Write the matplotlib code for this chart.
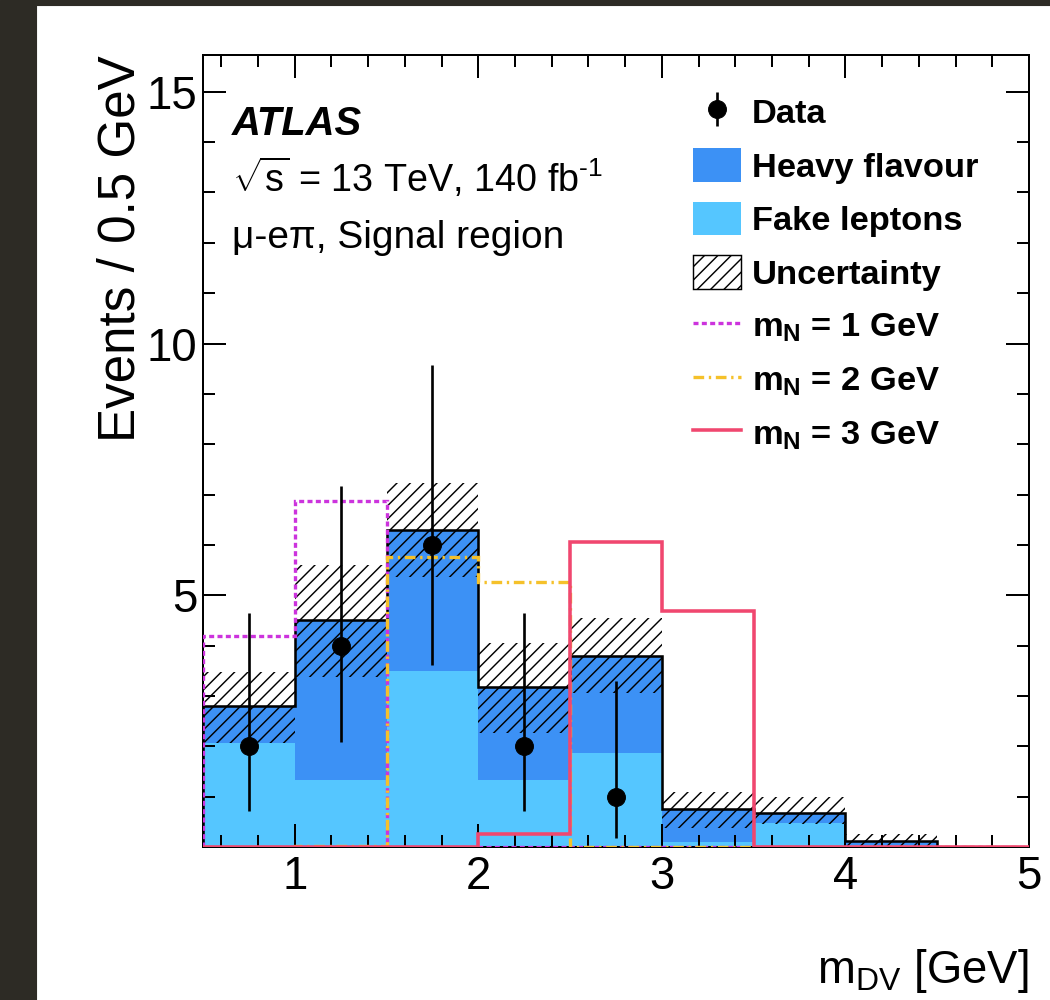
import numpy as np
import matplotlib
matplotlib.use("Agg")
import matplotlib.pyplot as plt
from matplotlib.patches import Patch, Rectangle
from matplotlib.lines import Line2D
from matplotlib.ticker import MultipleLocator, FixedLocator

# ── 데이터 ──────────────────────────────────────
edges = [0.5, 1.0, 1.5, 2.0, 2.5, 3.0, 3.5, 4.0, 4.5, 5.0]
fake_leptons = [2.06, 1.33, 3.49, 1.33, 1.86, 0.10, 0.47, 0.03, 0.0]
heavy_flavour = [0.74, 3.17, 2.81, 1.84, 1.94, 0.65, 0.20, 0.09, 0.0]
unc_lo = [2.06, 3.37, 5.36, 2.26, 3.06, 0.37, 0.46, 0.02, 0.0]
unc_hi = [3.47, 5.60, 7.22, 4.05, 4.54, 1.09, 0.99, 0.26, 0.0]

data_x = [0.75, 1.25, 1.75, 2.25, 2.75]
data_y = [2, 4, 6, 2, 1]
data_err_lo = [1.29, 1.91, 2.38, 1.29, 0.83]
data_err_hi = [2.64, 3.16, 3.58, 2.64, 2.30]

sig_m1 = [4.19, 6.87, 0.0, 0.0, 0.0, 0.0, 0.0, 0.0, 0.0]
sig_m2 = [0.0, 0.02, 5.75, 5.27, 0.0, 0.0, 0.0, 0.0, 0.0]
sig_m3 = [0.0, 0.0, 0.0, 0.25, 6.06, 4.69, 0.0, 0.0, 0.0]

y_major_ticks = [5, 10, 15]

C_HEAVY = "#3c91f5"
C_FAKE = "#55c6ff"
C_M1 = "#cc33dd"
C_M2 = "#f5c12a"
C_M3 = "#f0476f"

LS_M1 = (0, (1.5, 1.0))
LS_M2 = (0, (3.2, 1.4, 0.7, 1.4))

plt.rcParams["font.family"] = ["Liberation Sans", "DejaVu Sans"]
plt.rcParams["mathtext.fontset"] = "custom"
plt.rcParams["mathtext.rm"] = "Liberation Sans"
plt.rcParams["mathtext.it"] = "Liberation Sans:italic"
plt.rcParams["mathtext.bf"] = "Liberation Sans:bold"
plt.rcParams["hatch.linewidth"] = 1.3
plt.rcParams["axes.unicode_minus"] = False

fig = plt.figure(figsize=(13.125, 12.5), dpi=80)
ax = fig.add_axes([203 / 1050, 153 / 1000, 826 / 1050, 792 / 1000])

# 화면 테두리 (스크린샷 배경)
fig.patches.append(Rectangle((0, 0), 36 / 1050, 1, transform=fig.transFigure,
                             color="#2d2b25", zorder=0))
fig.patches.append(Rectangle((0, 995 / 1000), 1, 5 / 1000, transform=fig.transFigure,
                             color="#2d2b25", zorder=0))

fake = np.array(fake_leptons)
total = fake + np.array(heavy_flavour)

# 배경 스택
ax.stairs(fake, edges, fill=True, color=C_FAKE, lw=0, zorder=1)
ax.stairs(total, edges, baseline=fake, fill=True, color=C_HEAVY, lw=0, zorder=1)
ax.stairs(unc_hi, edges, baseline=unc_lo, fill=True, facecolor="none",
          edgecolor="black", hatch="//", lw=0, zorder=2)
ax.stairs(total, edges, color="black", lw=2.3, zorder=3)

# 신호
ax.stairs(sig_m1, edges, color=C_M1, lw=3.0, linestyle=LS_M1, zorder=4)
ax.stairs(sig_m2, edges, color=C_M2, lw=3.0, linestyle=LS_M2, zorder=4)
ax.stairs(sig_m3, edges, color=C_M3, lw=3.2, zorder=4)

# 데이터
data_h = ax.errorbar(data_x, data_y, yerr=[data_err_lo, data_err_hi], fmt="o",
                     color="black", ms=16, elinewidth=2.4, capsize=0, zorder=5)

ax.set_xlim(0.5, 5.0)
ax.set_ylim(0, 15.73)
ax.xaxis.set_major_locator(MultipleLocator(1))
ax.xaxis.set_minor_locator(MultipleLocator(0.2))
ax.yaxis.set_major_locator(FixedLocator(y_major_ticks))
ax.yaxis.set_minor_locator(MultipleLocator(1))
ax.tick_params(which="both", direction="in", top=True, right=True, width=1.8)
ax.tick_params(which="major", length=21, labelsize=41)
ax.tick_params(which="minor", length=10.5)
ax.tick_params(axis="x", pad=7)
ax.tick_params(axis="y", pad=5)
for sp in ax.spines.values():
    sp.set_linewidth(1.8)

ax.set_xlabel(r"m$_{\mathrm{DV}}$ [GeV]", fontsize=41, loc="right")
ax.xaxis.set_label_coords(1.0, -0.126)
ax.set_ylabel("Events / 0.5 GeV", fontsize=46, loc="top")
ax.yaxis.set_label_coords(-0.07, 1.0)

# 라벨
ax.text(0.035, 0.899, "ATLAS", transform=ax.transAxes, fontsize=36,
        fontweight="bold", fontstyle="italic")
ax.text(0.035, 0.827, r"$\sqrt{\mathrm{s}}$ = 13 TeV, 140 fb$^{\text{-1}}$",
        transform=ax.transAxes, fontsize=34)
ax.text(0.035, 0.756, "μ-eπ, Signal region", transform=ax.transAxes, fontsize=35)

handles = [
    data_h,
    Patch(facecolor=C_HEAVY, edgecolor="none"),
    Patch(facecolor=C_FAKE, edgecolor="none"),
    Patch(facecolor="white", edgecolor="black", hatch="//", lw=1.3),
    Line2D([], [], color=C_M1, lw=3.0, linestyle=LS_M1),
    Line2D([], [], color=C_M2, lw=3.0, linestyle=LS_M2),
    Line2D([], [], color=C_M3, lw=3.2),
]
labels = ["Data", "Heavy flavour", "Fake leptons", "Uncertainty",
          r"m$_{\mathbf{N}}$ = 1 GeV", r"m$_{\mathbf{N}}$ = 2 GeV",
          r"m$_{\mathbf{N}}$ = 3 GeV"]
ax.legend(handles, labels, loc="upper left", bbox_to_anchor=(0.593, 0.950),
          frameon=False, borderpad=0, borderaxespad=0, handlelength=1.4,
          handleheight=1.13, handletextpad=0.32, labelspacing=0.52,
          prop={"weight": "bold", "size": 31})

fig.savefig("out.png", dpi=80)
